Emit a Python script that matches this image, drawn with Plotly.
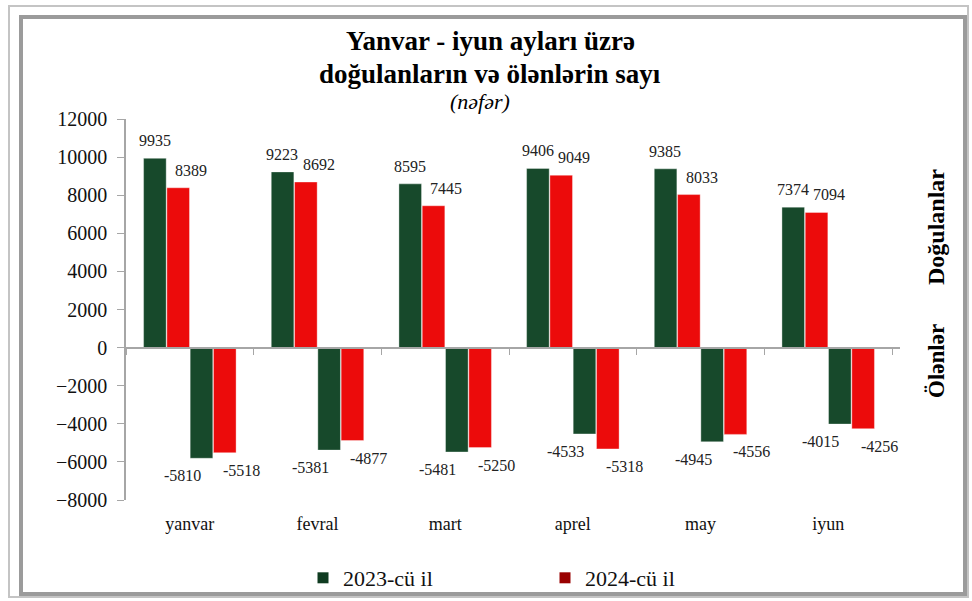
import plotly.graph_objects as go

months = ["yanvar", "fevral", "mart", "aprel", "may", "iyun"]
births_2023 = [9935, 9223, 8595, 9406, 9385, 7374]
births_2024 = [8389, 8692, 7445, 9049, 8033, 7094]
deaths_2023 = [-5810, -5381, -5481, -4533, -4945, -4015]
deaths_2024 = [-5518, -4877, -5250, -5318, -4556, -4256]
year_labels = ["2023-cü il", "2024-cü il"]

GREEN = "#17492b"
RED = "#ec0b0b"
FONT = "Liberation Serif, Times New Roman, serif"

W, H = 972, 601
L, R, T, B = 126, 72, 119, 101
PW, PH = W - L - R, H - T - B
BARGAP = 0.27


def px_x(v):
    return (v - L) / PW


def px_y(v):
    return (H - B - v) / PH


fig = go.Figure()
# (values, colour, label x nudge in px)
series = [(births_2023, GREEN, 0), (births_2024, RED, 13), (deaths_2023, GREEN, -19), (deaths_2024, RED, 16)]
slot = PW / len(months) * (1 - BARGAP) / len(series)
for i, (vals, col, nudge) in enumerate(series):
    fig.add_trace(go.Bar(
        x=months, y=vals,
        marker=dict(color=col, line=dict(color="rgba(255,255,255,0.6)", width=0.6)),
        showlegend=False,
    ))
    # data labels, Excel style (slightly shifted off the bars)
    for m, v in zip(months, vals):
        fig.add_annotation(x=m, y=v, text=str(v), showarrow=False,
                           xshift=(i - 1.5) * slot + nudge,
                           yshift=7 if v > 0 else -7,
                           yanchor="bottom" if v > 0 else "top",
                           font=dict(family=FONT, size=16, color="#222"))

# dummy trace so the zero-line axis with boundary ticks is drawn
fig.add_trace(go.Scatter(x=months, y=[0] * len(months), xaxis="x2", mode="markers",
                         marker=dict(opacity=0), showlegend=False, hoverinfo="skip"))

# legend entries
for name, col in zip(year_labels, ["#0f3b20", "#990000"]):
    fig.add_trace(go.Scatter(x=[None], y=[None], mode="markers", name=name,
                             marker=dict(symbol="square", size=11, color=col)))

fig.update_layout(
    width=W, height=H,
    barmode="group", bargap=BARGAP, bargroupgap=0.03,
    plot_bgcolor="white", paper_bgcolor="white",
    font=dict(family=FONT, color="#111"),
    margin=dict(l=L, r=R, t=T, b=B, autoexpand=False),
    showlegend=True,
    legend=dict(orientation="h", x=px_x(303), xanchor="left", y=px_y(578), yanchor="middle",
                bgcolor="rgba(0,0,0,0)",
                font=dict(family=FONT, size=22), entrywidth=197, itemwidth=30),
    xaxis=dict(showline=False, ticks="", tickfont=dict(size=18, family=FONT),
               ticklabelstandoff=11),
    xaxis2=dict(overlaying="x", matches="x", anchor="free", position=0.4,
                side="bottom", showline=True, linecolor="#a6a6a6", linewidth=1.5,
                ticks="outside", tickson="boundaries", ticklen=7, tickcolor="#a6a6a6",
                showticklabels=False, showgrid=False),
    yaxis=dict(range=[-8000, 12000], dtick=2000, tickformat="d", showgrid=False, zeroline=False,
               showline=True, linecolor="#a6a6a6", linewidth=1.5,
               ticks="outside", ticklen=7, tickcolor="#a6a6a6", ticklabelstandoff=6,
               tickfont=dict(size=20, family=FONT)),
)

fig.add_annotation(text="<b>Yanvar - iyun ayları üzrə</b>",
                   xref="paper", yref="paper", x=px_x(490), y=px_y(41), showarrow=False,
                   xanchor="center", yanchor="middle",
                   font=dict(family=FONT, size=27, color="#000"))
fig.add_annotation(text="<b>doğulanların və ölənlərin sayı</b>",
                   xref="paper", yref="paper", x=px_x(490), y=px_y(74), showarrow=False,
                   xanchor="center", yanchor="middle",
                   font=dict(family=FONT, size=27, color="#000"))
fig.add_annotation(text="<i>(nəfər)</i>", xref="paper", yref="paper", x=px_x(480), y=px_y(102),
                   showarrow=False, xanchor="center", yanchor="middle",
                   font=dict(family=FONT, size=22, color="#000"))
fig.add_annotation(text="<b>Doğulanlar</b>", xref="paper", yref="paper", x=px_x(936), y=px_y(227),
                   showarrow=False, textangle=-90, xanchor="center", yanchor="middle",
                   font=dict(family=FONT, size=24, color="#000"))
fig.add_annotation(text="<b>Ölənlər</b>", xref="paper", yref="paper", x=px_x(936), y=px_y(361),
                   showarrow=False, textangle=-90, xanchor="center", yanchor="middle",
                   font=dict(family=FONT, size=23, color="#000"))

# frame
fig.add_shape(type="rect", xref="paper", yref="paper", x0=px_x(9), x1=px_x(968), y0=px_y(597), y1=px_y(6),
              line=dict(color="#c4c4c4", width=2), layer="below")
fig.add_shape(type="rect", xref="paper", yref="paper", x0=px_x(21), x1=px_x(965), y0=px_y(594), y1=px_y(17),
              line=dict(color="#9b9b9b", width=4), layer="below")

fig.write_html("out.html", config={"displayModeBar": False},
               post_script="document.body.style.margin='0';")
